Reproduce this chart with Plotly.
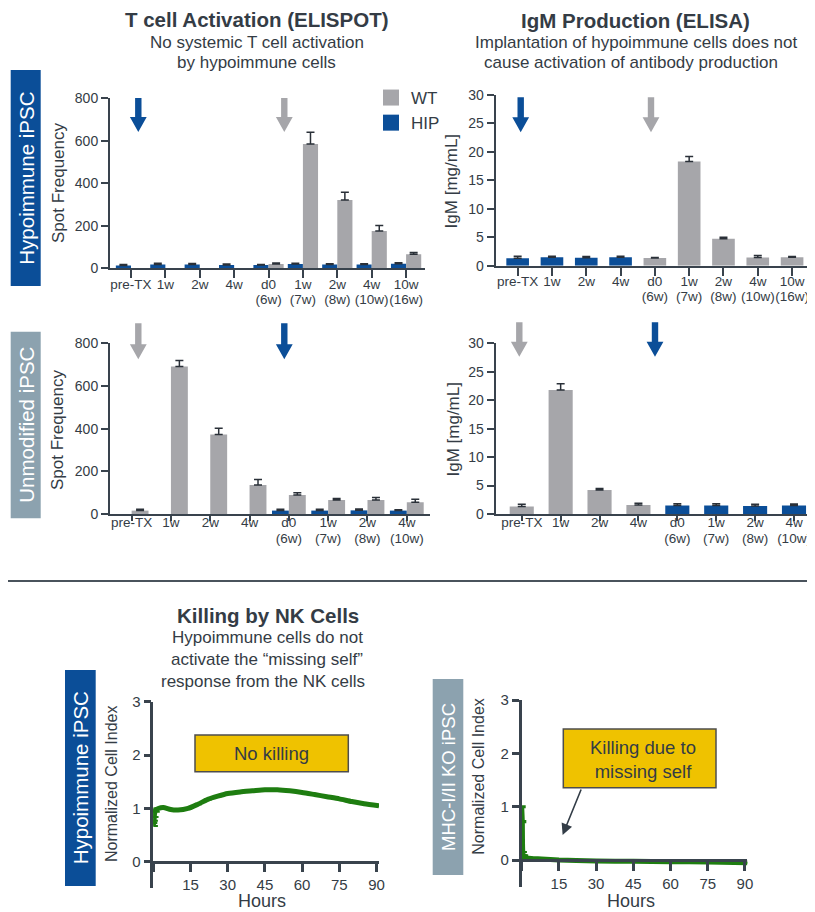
import plotly.graph_objects as go

# page body has an 8px margin: figure is sized to fit the 815x912 window
OFF = 8
W, H = 815 - OFF, 912 - OFF
def fx(p): return (p - OFF) / W
def fy(p): return 1 - (p - OFF) / H

FONT = "Liberation Sans, Arial, sans-serif"
TXT = "#343c45"
AX = "#39434d"
BLUE = "#0b4e98"
GRAY = "#a6a6aa"
SLATE = "#8ca2af"
GREEN = "#1e7d10"
YEL = "#efc200"

# ---------------- data ----------------
cats_top = ["pre-TX", "1w", "2w", "4w", "d0<br>(6w)", "1w<br>(7w)", "2w<br>(8w)", "4w<br>(10w)", "10w<br>(16w)"]
cats_bot = ["pre-TX", "1w", "2w", "4w", "d0<br>(6w)", "1w<br>(7w)", "2w<br>(8w)", "4w<br>(10w)"]

elispot_hipgrp_hip = [13, 18, 18, 15, 15, 20, 18, 18, 22]
elispot_hipgrp_hip_err = [5, 6, 5, 5, 3, 4, 4, 3, 4]
elispot_hipgrp_wt = [None, None, None, None, 20, 585, 322, 176, 66]
elispot_hipgrp_wt_err = [None, None, None, None, 5, 55, 36, 25, 8]

igm_hipgrp_hip = [1.3, 1.5, 1.4, 1.5, None, None, None, None, None]
igm_hipgrp_hip_err = [0.35, 0.15, 0.2, 0.15, None, None, None, None, None]
igm_hipgrp_wt = [None, None, None, None, 1.35, 18.3, 4.75, 1.45, 1.5]
igm_hipgrp_wt_err = [None, None, None, None, 0.1, 0.9, 0.25, 0.35, 0.1]

elispot_un_hip = [None, None, None, None, 16, 16, 17, 16]
elispot_un_hip_err = [None, None, None, None, 6, 6, 6, 4]
elispot_un_wt = [16, 691, 373, 136, 89, 66, 66, 55]
elispot_un_wt_err = [6, 28, 29, 26, 11, 7, 11, 14]

igm_un_wt = [1.3, 21.8, 4.2, 1.6, None, None, None, None]
igm_un_wt_err = [0.4, 1.1, 0.3, 0.3, None, None, None, None]
igm_un_hip = [None, None, None, None, 1.5, 1.5, 1.4, 1.5]
igm_un_hip_err = [None, None, None, None, 0.3, 0.3, 0.3, 0.25]

nk_hip_hours = [0, 0.25, 0.5, 1, 2, 4, 7, 10, 14, 18, 22, 26, 30, 35, 40, 45, 50, 55, 60, 65, 70, 75, 80, 85, 91]
nk_hip_index = [0.85, 0.72, 0.9, 0.97, 1.0, 1.02, 0.98, 0.97, 1.0, 1.08, 1.17, 1.23, 1.28, 1.31, 1.33, 1.35, 1.35, 1.33, 1.3, 1.26, 1.22, 1.18, 1.13, 1.09, 1.05]
nk_hip_err = [0.12, 0.05, 0.06, 0.03, None, None, None, None, None, None, None, None, None, None, None, None, None, None, None, None, None, None, None, None, None]

nk_ko_hours = [0, 0.25, 0.5, 1, 2, 4, 8, 15, 22, 30, 45, 60, 75, 91]
nk_ko_index = [1.0, 0.72, 0.12, 0.06, 0.04, 0.03, 0.02, 0.0, -0.01, -0.02, -0.025, -0.03, -0.035, -0.05]
nk_ko_err = [0.01, 0.01, 0.03, 0.03, None, None, None, None, None, None, None, None, None, None]

fig = go.Figure()

def bars(x, y, err, color, xa, ya, width, offset):
    fig.add_trace(go.Bar(
        x=x, y=y, xaxis=xa, yaxis=ya, marker=dict(color=color, line=dict(width=0)),
        width=width, offset=offset, showlegend=False,
        error_y=dict(type="data", array=err, arrayminus=[0 if e is not None else None for e in err],
                     symmetric=False, color="#2a3038", thickness=1.5, width=4),
    ))

bars(cats_top, elispot_hipgrp_hip, elispot_hipgrp_hip_err, BLUE, "x", "y", 0.44, -0.44)
bars(cats_top, elispot_hipgrp_wt, elispot_hipgrp_wt_err, GRAY, "x", "y", 0.44, 0.0)
bars(cats_top, igm_hipgrp_hip, igm_hipgrp_hip_err, BLUE, "x2", "y2", 0.66, -0.33)
bars(cats_top, igm_hipgrp_wt, igm_hipgrp_wt_err, GRAY, "x2", "y2", 0.66, -0.33)
bars(cats_bot, elispot_un_hip, elispot_un_hip_err, BLUE, "x3", "y3", 0.43, -0.43)
bars(cats_bot, elispot_un_wt, elispot_un_wt_err, GRAY, "x3", "y3", 0.43, 0.0)
bars(cats_bot, igm_un_wt, igm_un_wt_err, GRAY, "x4", "y4", 0.62, -0.31)
bars(cats_bot, igm_un_hip, igm_un_hip_err, BLUE, "x4", "y4", 0.62, -0.31)

# legend proxies
fig.add_trace(go.Scatter(x=[None], y=[None], mode="markers", name="WT",
                         marker=dict(symbol="square", size=16, color=GRAY)))
fig.add_trace(go.Scatter(x=[None], y=[None], mode="markers", name="HIP",
                         marker=dict(symbol="square", size=16, color=BLUE)))

for hx, hy, he, xa, ya in [(nk_hip_hours, nk_hip_index, nk_hip_err, "x5", "y5"),
                           (nk_ko_hours, nk_ko_index, nk_ko_err, "x6", "y6")]:
    fig.add_trace(go.Scatter(
        x=hx, y=hy, xaxis=xa, yaxis=ya, mode="lines", showlegend=False,
        line=dict(color=GREEN, width=5, shape="spline", smoothing=0.6),
        error_y=dict(type="data", array=he, color=GREEN, thickness=2, width=4),
    ))

# empty traces so the second-line label axes get drawn
for xa, ya in [("x7", "y"), ("x8", "y2"), ("x9", "y3"), ("x10", "y4")]:
    fig.add_trace(go.Scatter(x=[None], y=[None], xaxis=xa, yaxis=ya, showlegend=False,
                             hoverinfo="skip", mode="markers"))

tickfont = dict(family=FONT, size=14, color=TXT)
catfont = dict(family=FONT, size=13.5, color=TXT)

def first_lines(cats):
    return [c.split("<br>")[0] for c in cats]
def second_lines(cats):
    idx = [i for i, c in enumerate(cats) if "<br>" in c]
    return idx, [cats[i].split("<br>")[1] for i in idx]

def cat_x(dom, rng, anchor, cats, ticklen, standoff):
    return dict(domain=[fx(dom[0]), fx(dom[1])], range=rng, anchor=anchor, type="category",
                tickmode="array", tickvals=cats, ticktext=first_lines(cats),
                showline=True, linecolor=AX, linewidth=2, ticks="outside", ticklen=ticklen,
                tickwidth=2, tickcolor=AX, tickfont=catfont, ticklabelstandoff=standoff,
                tickangle=0, automargin=False,
                showgrid=False, zeroline=False, fixedrange=True)
def sub_x(base, dom, rng, anchor, cats, standoff):
    idx, txt = second_lines(cats)
    return dict(domain=[fx(dom[0]), fx(dom[1])], range=rng, anchor=anchor, overlaying=base,
                type="linear", tickmode="array", tickvals=idx, ticktext=txt,
                showline=False, ticks="", tickfont=catfont, ticklabelstandoff=standoff,
                tickangle=0, automargin=False, showgrid=False, zeroline=False, fixedrange=True)
def val_y(dom, rng, dtick, anchor):
    return dict(domain=[fy(dom[1]), fy(dom[0])], range=rng, dtick=dtick, anchor=anchor,
                showline=True, linecolor=AX, linewidth=2, ticks="outside", ticklen=7,
                tickwidth=2, tickcolor=AX, tickfont=tickfont, showgrid=False, zeroline=False,
                automargin=False, fixedrange=True)

geo = {
    1: ((110, 425), [-0.61, 8.55], cats_top, "y", (98.3, 268.3), [0, 800], 200, 8, -6, 21),
    2: ((495.7, 813), [-0.64, 8.61], cats_top, "y2", (95, 265.7), [0, 30], 5, 8, -6, 21),
    3: ((110, 430), [-0.55, 7.59], cats_bot, "y3", (343.3, 514), [0, 800], 200, 5, -10, 14),
    4: ((495.7, 815), [-0.67, 7.54], cats_bot, "y4", (343.3, 514), [0, 30], 5, 5, -10, 14),
}

lay = dict(
    template="none",
    width=W, height=H, autosize=False, margin=dict(l=0, r=0, t=0, b=0, pad=0),
    paper_bgcolor="white", plot_bgcolor="rgba(0,0,0,0)",
    font=dict(family=FONT, color=TXT),
    legend=dict(x=fx(371), y=fy(80), xanchor="left", yanchor="top", bgcolor="rgba(0,0,0,0)",
                borderwidth=0,
                font=dict(family=FONT, size=17, color=TXT), itemsizing="trace", tracegroupgap=0),
)
for i, (xd, xr, cats, ya, yd, yr, dt, tl, so1, so2) in geo.items():
    xn = "xaxis" if i == 1 else f"xaxis{i}"
    yn = "yaxis" if i == 1 else f"yaxis{i}"
    xref = "x" if i == 1 else f"x{i}"
    lay[xn] = cat_x(xd, xr, ya, cats, tl, so1)
    lay[yn] = val_y(yd, yr, dt, xref)
    lay[f"xaxis{i + 6}"] = sub_x(xref, xd, xr, ya, cats, so2)

nk_ticks = [0, 15, 30, 45, 60, 75, 90]
nk_text = ["", "15", "30", "45", "60", "75", "90"]
for i, (xd, yd, zero_px) in zip((5, 6), [((153.3, 379), (701.7, 888), 861.7),
                                         ((521.7, 747.4), (700, 886.7), 860)]):
    lay[f"xaxis{i}"] = dict(domain=[fx(xd[0]), fx(xd[1])], range=[0, 91], anchor="free",
                            position=fy(zero_px),
                            tickvals=nk_ticks, ticktext=nk_text, showline=True, linecolor=AX,
                            linewidth=2.5, ticks="outside", ticklen=9, tickwidth=2.5, tickcolor=AX,
                            tickfont=dict(family=FONT, size=15, color=TXT), showgrid=False,
                            tickangle=0, automargin=False, zeroline=False, fixedrange=True)
    lay[f"yaxis{i}"] = dict(domain=[fy(yd[1]), fy(yd[0])], range=[-0.49 if i == 5 else -0.5, 3],
                            tickvals=[0, 1, 2, 3], anchor=f"x{i}", showline=True, linecolor=AX,
                            linewidth=2.5, ticks="outside", ticklen=7, tickwidth=2.5, tickcolor=AX,
                            tickfont=dict(family=FONT, size=15, color=TXT), showgrid=False,
                            automargin=False, zeroline=False, fixedrange=True)
fig.update_layout(**lay)

shapes = []
annos = []

def text(s, x, y, size, bold=False, color=TXT, angle=0):
    annos.append(dict(text=f"<b>{s}</b>" if bold else s, x=fx(x), y=fy(y), xref="paper", yref="paper",
                      showarrow=False, xanchor="center", yanchor="middle", textangle=angle,
                      font=dict(family=FONT, size=size, color=color)))

def rect(x0, y0, x1, y1, fill, line=None):
    shapes.append(dict(type="rect", xref="paper", yref="paper", x0=fx(x0), x1=fx(x1), y0=fy(y1), y1=fy(y0),
                       fillcolor=fill, line=dict(width=1.5 if line else 0, color=line or fill), layer="below"))

def arrow(cx, top, tip, color):
    sw, hw, hh = 3.2, 8.4, 15
    pts = [(cx - sw, top), (cx + sw, top), (cx + sw, tip - hh), (cx + hw, tip - hh), (cx, tip),
           (cx - hw, tip - hh), (cx - sw, tip - hh)]
    path = "M" + " L".join(f"{fx(px):.5f},{fy(py):.5f}" for px, py in pts) + " Z"
    shapes.append(dict(type="path", xref="paper", yref="paper", path=path, fillcolor=color,
                       line=dict(width=0)))

# titles
text("T cell Activation (ELISPOT)", 256.7, 19.5, 20.5, bold=True)
text("No systemic T cell activation", 256.7, 42.5, 17)
text("by hypoimmune cells", 256.7, 63, 17)
text("IgM Production (ELISA)", 635.8, 20, 20.5, bold=True)
text("Implantation of hypoimmune cells does not", 636.3, 42.5, 17)
text("cause activation of antibody production", 631, 63, 17)
text("Killing by NK Cells", 267.5, 615, 20.5, bold=True)
text("Hypoimmune cells do not", 267.3, 637.7, 17)
text("activate the “missing self”", 266.7, 659, 17)
text("response from the NK cells", 262.5, 681, 17)

# axis titles
text("Spot Frequency", 58, 183, 17, angle=-90)
text("Spot Frequency", 57, 430, 17, angle=-90)
text("IgM [mg/mL]", 451.7, 181.7, 17, angle=-90)
text("IgM [mg/mL]", 452.5, 430, 17, angle=-90)
text("Normalized Cell Index", 111.7, 783.3, 16, angle=-90)
text("Normalized Cell Index", 479, 776.7, 16, angle=-90)
text("Hours", 262.3, 901, 18)
text("Hours", 631, 901, 18)

# side boxes
rect(10.7, 70, 40.7, 286, BLUE)
text("Hypoimmune iPSC", 25.7, 178, 20.5, color="white", angle=-90)
rect(10.7, 331.7, 40.7, 518.3, SLATE)
text("Unmodified iPSC", 25.7, 425, 20.5, color="white", angle=-90)
rect(65, 670, 95.7, 886, BLUE)
text("Hypoimmune iPSC", 80.3, 778, 20.5, color="white", angle=-90)
rect(432.7, 679, 463.3, 875, SLATE)
text("MHC-I/II KO iPSC", 448, 777, 18.5, color="white", angle=-90)

# arrows
arrow(138.3, 98, 132, BLUE)
arrow(284.3, 98, 132, GRAY)
arrow(520.7, 97.3, 132.3, BLUE)
arrow(651, 97.3, 132.3, GRAY)
arrow(138.3, 323.3, 359.3, GRAY)
arrow(284.3, 323.3, 359.3, BLUE)
arrow(519.3, 322.3, 356.7, GRAY)
arrow(655, 322.3, 356.7, BLUE)

# separator
shapes.append(dict(type="line", xref="paper", yref="paper", x0=fx(8), x1=fx(815), y0=fy(581), y1=fy(581),
                   line=dict(color="#4a535c", width=2)))

# callout boxes
rect(195, 735, 348.3, 771.7, YEL, "#4d4d4d")
text("No killing", 271.7, 753.5, 18.5)
rect(563.3, 729, 716, 787.7, YEL, "#4d4d4d")
annos.append(dict(text="Killing due to<br>missing self", x=fx(643), y=fy(759), xref="paper", yref="paper",
                  showarrow=False, xanchor="center", yanchor="middle",
                  font=dict(family=FONT, size=18.5, color=TXT)))
annos.append(dict(text="", x=16.5, y=0.47, xref="x6", yref="y6", ax=24.2, ay=1.35, axref="x6", ayref="y6",
                  showarrow=True, arrowhead=2, arrowsize=1.4, arrowwidth=1.6, arrowcolor="#333d47"))

fig.update_layout(shapes=shapes, annotations=annos)
fig.write_html("out.html")
